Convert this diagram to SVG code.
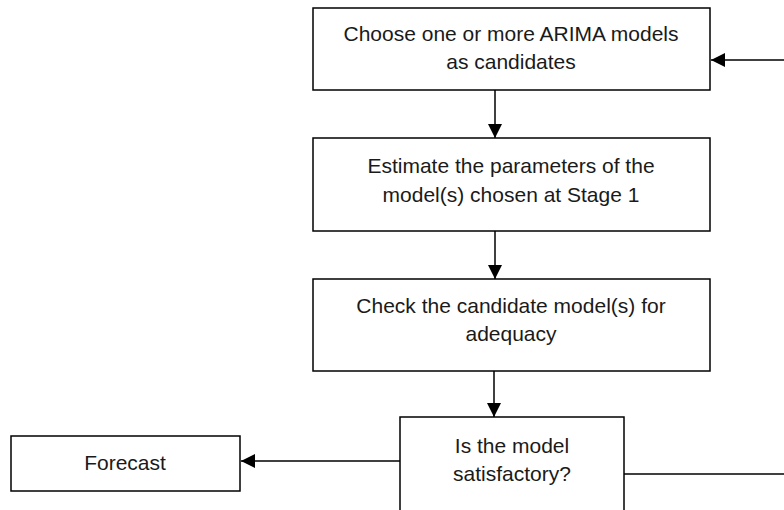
<svg xmlns="http://www.w3.org/2000/svg" width="784" height="510" viewBox="0 0 784 510">
<style>
.box{fill:#fff;stroke:#000;stroke-width:1.5}
.t{font-family:"Liberation Sans",Arial,sans-serif;font-size:21px;fill:#1a1a1a;text-anchor:middle}
.c{fill:none;stroke:#000;stroke-width:1.5}
</style>
<defs>
<marker id="ah" viewBox="0 0 14 14" refX="14" refY="7" markerWidth="14" markerHeight="14" markerUnits="userSpaceOnUse" orient="auto">
<path d="M0,0 L14,7 L0,14 Z" fill="#000"/>
</marker>
</defs>
<rect width="784" height="510" fill="#fff"/>
<g id="connectors">
<line class="c" x1="495" y1="90" x2="495" y2="138" marker-end="url(#ah)"/>
<line class="c" x1="495" y1="231" x2="495" y2="279" marker-end="url(#ah)"/>
<line class="c" x1="494" y1="371" x2="494" y2="417" marker-end="url(#ah)"/>
<line class="c" x1="400" y1="461" x2="241" y2="461" marker-end="url(#ah)"/>
<line class="c" x1="624" y1="474" x2="790" y2="474"/>
<line class="c" x1="790" y1="60" x2="711" y2="60" marker-end="url(#ah)"/>
</g>
<g id="n1">
<rect class="box" x="313" y="8" width="397" height="82"/>
<text class="t" x="511" y="41">Choose one or more ARIMA models</text>
<text class="t" x="511" y="69">as candidates</text>
</g>
<g id="n2">
<rect class="box" x="313" y="138" width="397" height="93"/>
<text class="t" x="511" y="173">Estimate the parameters of the</text>
<text class="t" x="511" y="202">model(s) chosen at Stage 1</text>
</g>
<g id="n3">
<rect class="box" x="313" y="279" width="397" height="92"/>
<text class="t" x="511" y="313">Check the candidate model(s) for</text>
<text class="t" x="511" y="341">adequacy</text>
</g>
<g id="n4">
<rect class="box" x="400" y="417" width="224" height="100"/>
<text class="t" x="512" y="453">Is the model</text>
<text class="t" x="512" y="481">satisfactory?</text>
</g>
<g id="n5">
<rect class="box" x="11" y="436" width="229" height="55"/>
<text class="t" x="125" y="470">Forecast</text>
</g>
</svg>
